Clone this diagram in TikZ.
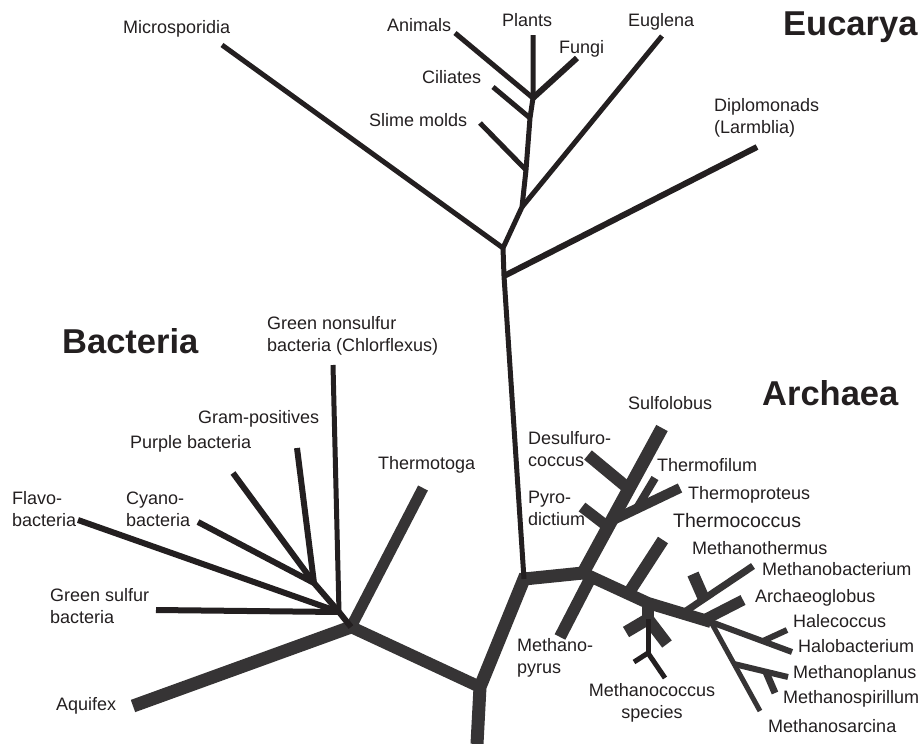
\documentclass[tikz,border=0pt]{standalone}
\usepackage{fontspec}
\setmainfont{Liberation Sans}
\usetikzlibrary{calc,positioning}
\definecolor{treeblack}{HTML}{231F20}
\definecolor{treegray}{HTML}{363435}
\tikzset{
  twig/.style={draw=treeblack, line width=#1},
  twig/.default=5pt,
  limb/.style={draw=treegray, line width=#1},
  limb/.default=12pt,
  taxon/.style={anchor=base west, inner sep=0pt, align=left, text=treeblack,
    font=\fontsize{18}{22}\selectfont},
  realm/.style={anchor=base west, inner sep=0pt, text=treeblack,
    font=\bfseries\fontsize{34.5}{40}\selectfont},
}

\begin{document}
\begin{tikzpicture}[x=1pt,y=-1pt,line cap=butt,line join=miter]
    \useasboundingbox (0,0) rectangle (921,744);
    %% Locate important points
    % trunk
    \coordinate (root) at (477,744);
    \coordinate (J1) at (480,687);
    \coordinate (J2) at (524,579);
    \coordinate (A0) at (583,573);
    % eucarya
    \coordinate (E1) at (504,276);
    \coordinate (E2) at (503,248);
    \coordinate (E3) at (522,207);
    \coordinate (E4) at (526,170);
    \coordinate (E5) at (530,118);
    \coordinate (E6) at (533,98);
    \coordinate (Dip) at (757,147);
    \coordinate (Mic) at (222,45);
    \coordinate (Eug) at (662,36);
    \coordinate (Sli) at (480,123);
    \coordinate (Cil) at (493,87);
    \coordinate (Ani) at (455,33);
    \coordinate (Pla) at (533,35);
    \coordinate (Fun) at (577,58);
    % bacteria
    \coordinate (B0) at (351,627);
    \coordinate (B1) at (339,612);
    \coordinate (B2) at (314,583);
    \coordinate (Aqu) at (133,706);
    \coordinate (Thm) at (423,488);
    \coordinate (GNS) at (333,365);
    \coordinate (GS) at (156,610);
    \coordinate (Fla) at (78,520);
    \coordinate (Cya) at (198,522);
    \coordinate (Pur) at (233,473);
    \coordinate (Gra) at (297,448);
    % archaea
    \coordinate (Sul) at (662,428);
    \coordinate (Dj) at (629,489);
    \coordinate (Des) at (588,455);
    \coordinate (Pj) at (608,527);
    \coordinate (Pyr) at (582,507);
    \coordinate (Tj) at (611,521);
    \coordinate (Tpr) at (680,488);
    \coordinate (Tfj) at (637,508);
    \coordinate (Tfi) at (655,478);
    \coordinate (Mcj) at (648,603);
    \coordinate (A2) at (711,622);
    \coordinate (Mpyj) at (591,577);
    \coordinate (Mpy) at (560,637);
    \coordinate (Tcj) at (628,594);
    \coordinate (Tco) at (663,540);
    \coordinate (Mc1) at (648,619);
    \coordinate (McL) at (626,632);
    \coordinate (McR) at (667,644);
    \coordinate (Mc2) at (648,653);
    \coordinate (McA) at (634,662);
    \coordinate (McB) at (665,678);
    \coordinate (Mbj) at (683,613);
    \coordinate (Mba) at (753,566);
    \coordinate (Mtj) at (704,599);
    \coordinate (Mth) at (693,574);
    \coordinate (Arj) at (704,620);
    \coordinate (Arc) at (743,600);
    \coordinate (Hal) at (792,652);
    \coordinate (Hcj) at (763,641);
    \coordinate (Hec) at (787,630);
    \coordinate (Msa) at (760,711);
    \coordinate (Mpj) at (734,664);
    \coordinate (Mpl) at (788,677);
    \coordinate (Msj) at (766,672);
    \coordinate (Msp) at (775,693);
    %% Draw the trunk
    \draw[limb=13pt] (root) -- (J1) -- (J2) -- (A0);
    %% Draw eucarya
    \draw[twig] (J2) -- (E1) -- (E2) -- (E3) -- (E4) -- (E5) -- (E6) -- (Pla);
    \draw[twig=6pt] (E1) -- (Dip);
    \draw[twig] (E2) -- (Mic);
    \draw[twig] (E3) -- (Eug);
    \draw[twig] (E4) -- (Sli);
    \draw[twig] (E5) -- (Cil);
    \draw[twig] (E6) -- (Ani);
    \draw[twig=6pt] (E6) -- (Fun);
    %% Draw bacteria
    \draw[limb] (J1) -- (B0);
    \draw[limb=13pt] (B0) -- (Aqu);
    \draw[limb=11pt] (B0) -- (Thm);
    \draw[twig=6pt] (B0) -- (B1) -- (B2) -- (Pur);
    \draw[twig=6pt] (B2) -- (Gra);
    \draw[twig=6pt] (B2) -- (Cya);
    \draw[twig=6pt] (B1) -- (Fla);
    \draw[twig=6pt] (B1) -- (GS);
    \draw[twig=5pt] (B1) -- (GNS);
    %% Draw archaea
    \draw[limb=13pt] (A0) -- (Sul);
    \draw[limb] (Dj) -- (Des);
    \draw[limb=11pt] (Pj) -- (Pyr);
    \draw[limb=10pt] (Tj) -- (Tpr);
    \draw[limb=8pt] (Tfj) -- (Tfi);
    \draw[limb] (A0) -- (Mcj) -- (A2);
    \draw[limb] (Mpyj) -- (Mpy);
    \draw[limb] (Tcj) -- (Tco);
    \draw[limb] (Mcj) -- (Mc1);
    \draw[limb] (McL) -- (Mc1) -- (McR);
    \draw[twig] (Mc1) -- (Mc2);
    \draw[twig] (McA) -- (Mc2) -- (McB);
    \draw[limb=7pt] (Mbj) -- (Mba);
    \draw[limb] (Mtj) -- (Mth);
    \draw[limb=11pt] (Arj) -- (Arc);
    \draw[limb=6pt] (A2) -- (Hal);
    \draw[limb=6pt] (Hcj) -- (Hec);
    \draw[limb=5pt] (A2) -- (Msa);
    \draw[limb=6pt] (Mpj) -- (Mpl);
    \draw[limb=7pt] (Msj) -- (Msp);
    %% Labels (two-line labels sit on the baseline of their last line)
    \node[realm] (euc_label) at (783,35) {Eucarya};
    \node[realm] (bac_label) at (62,353) {Bacteria};
    \node[realm] (arc_label) at (762,405) {Archaea};
    \node[taxon] (mic_label) at (123,33) {Microsporidia};
    \node[taxon] (ani_label) at (387,31) {Animals};
    \node[taxon] (pla_label) at (502,26) {Plants};
    \node[taxon] (fun_label) at (559,53) {Fungi};
    \node[taxon] (eug_label) at (628,27) {Euglena};
    \node[taxon] (cil_label) at (422,83) {Ciliates};
    \node[taxon] (sli_label) at (369,126) {Slime molds};
    \node[taxon] (dip_label) at (714,133) {Diplomonads\\(Larmblia)};
    \node[taxon] (gns_label) at (267,351) {Green nonsulfur\\bacteria (Chlorflexus)};
    \node[taxon] (gra_label) at (198,423) {Gram-positives};
    \node[taxon] (pur_label) at (130,448) {Purple bacteria};
    \node[taxon] (thm_label) at (378,469) {Thermotoga};
    \node[taxon] (cya_label) at (126,526) {Cyano-\\bacteria};
    \node[taxon] (fla_label) at (12,526) {Flavo-\\bacteria};
    \node[taxon] (gs_label) at (50,623) {Green sulfur\\bacteria};
    \node[taxon] (aqu_label) at (56,710) {Aquifex};
    \node[taxon] (sul_label) at (628,409) {Sulfolobus};
    \node[taxon] (des_label) at (528,466) {Desulfuro-\\coccus};
    \node[taxon] (tfi_label) at (657,471) {Thermofilum};
    \node[taxon] (tpr_label) at (688,499) {Thermoproteus};
    \node[taxon] (pyr_label) at (528,525) {Pyro-\\dictium};
    \node[taxon, font=\fontsize{19.5}{22}\selectfont] (tco_label) at (673,527) {Thermococcus};
    \node[taxon] (mth_label) at (692,554) {Methanothermus};
    \node[taxon] (mba_label) at (762,575) {Methanobacterium};
    \node[taxon] (arg_label) at (755,602) {Archaeoglobus};
    \node[taxon] (hec_label) at (793,627) {Halecoccus};
    \node[taxon] (hal_label) at (798,652) {Halobacterium};
    \node[taxon] (mpl_label) at (793,678) {Methanoplanus};
    \node[taxon] (msp_label) at (783,703) {Methanospirillum};
    \node[taxon] (msa_label) at (768,732) {Methanosarcina};
    \node[taxon] (mpy_label) at (517,673) {Methano-\\pyrus};
    \node[taxon, anchor=base, align=center] (mco_label) at (652,718) {Methanococcus\\species};
  \end{tikzpicture}
\end{document}
